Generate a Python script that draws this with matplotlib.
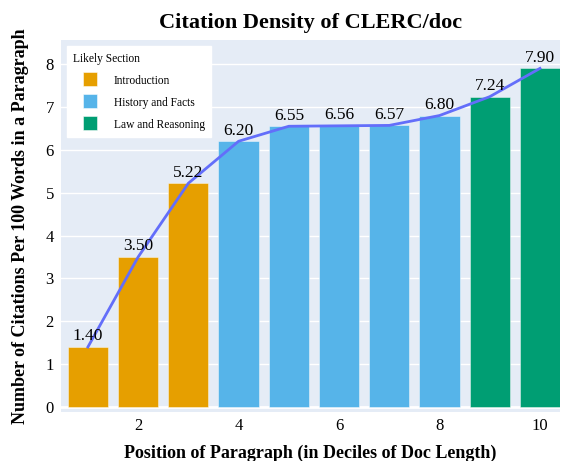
import numpy as np
import matplotlib.pyplot as plt
from matplotlib.lines import Line2D

# data
deciles = [1, 2, 3, 4, 5, 6, 7, 8, 9, 10]
density = [1.40, 3.50, 5.22, 6.20, 6.55, 6.56, 6.57, 6.80, 7.24, 7.90]
sections = ["Introduction", "Introduction", "Introduction",
            "History and Facts", "History and Facts", "History and Facts",
            "History and Facts", "History and Facts",
            "Law and Reasoning", "Law and Reasoning"]
section_names = ["Introduction", "History and Facts", "Law and Reasoning"]
section_colors = {"Introduction": "#E69F00",
                  "History and Facts": "#56B4E9",
                  "Law and Reasoning": "#009E73"}

plt.rcParams['font.family'] = ['Liberation Serif', 'DejaVu Serif']

fig = plt.figure(figsize=(5.68, 4.61), dpi=100)
ax = fig.add_axes([0.107, 0.106, 0.879, 0.807])
ax.set_facecolor("#E5ECF6")

for name in section_names:
    xs = [d for d, s in zip(deciles, sections) if s == name]
    ys = [v for v, s in zip(density, sections) if s == name]
    ax.bar(xs, ys, width=0.8, color=section_colors[name], label=name,
           edgecolor=(1, 1, 1, 0.5), linewidth=0.6, zorder=2)
    for x, y in zip(xs, ys):
        ax.text(x, y + 0.06, f"{y:.2f}", ha="center", va="bottom",
                fontsize=12.5, zorder=4)

ax.plot(deciles, density, color="#636EFA", linewidth=2, zorder=3)

ax.set_xlim(0.46, 10.4)
ax.set_ylim(-0.12, 8.56)
ax.set_xticks([2, 4, 6, 8, 10])
ax.set_yticks(range(0, 9))
ax.tick_params(length=0, labelsize=12, pad=5)
ax.tick_params(axis="x", pad=4)
ax.grid(axis="y", color="white", linewidth=1, zorder=0)
ax.axhline(0, color="white", linewidth=2, zorder=1)
for sp in ax.spines.values():
    sp.set_visible(False)

ax.set_title("Citation Density of CLERC/doc", fontsize=16, fontweight="bold", pad=9)
ax.set_xlabel("Position of Paragraph (in Deciles of Doc Length)",
              fontsize=13, fontweight="bold", labelpad=8)
ax.set_ylabel("Number of Citations Per 100 Words in a Paragraph",
              fontsize=13, fontweight="bold", labelpad=12)

handles = [Line2D([], [], linestyle="none", marker="s", markersize=9.5,
                  markerfacecolor=section_colors[n],
                  markeredgecolor=(1, 1, 1, 0.6), markeredgewidth=0.6)
           for n in section_names]
leg = ax.legend(handles, section_names, title="Likely Section", loc="upper left",
                fontsize=8.3, title_fontsize=8.3, frameon=True, fancybox=False,
                borderaxespad=0.55, handlelength=2.9, handleheight=1.0,
                handletextpad=0.6, labelspacing=0.85, borderpad=0.55)
leg.get_frame().set_edgecolor("white")
leg.get_frame().set_alpha(1)
leg._legend_box.align = "left"

fig.savefig("out.png", dpi=100)
